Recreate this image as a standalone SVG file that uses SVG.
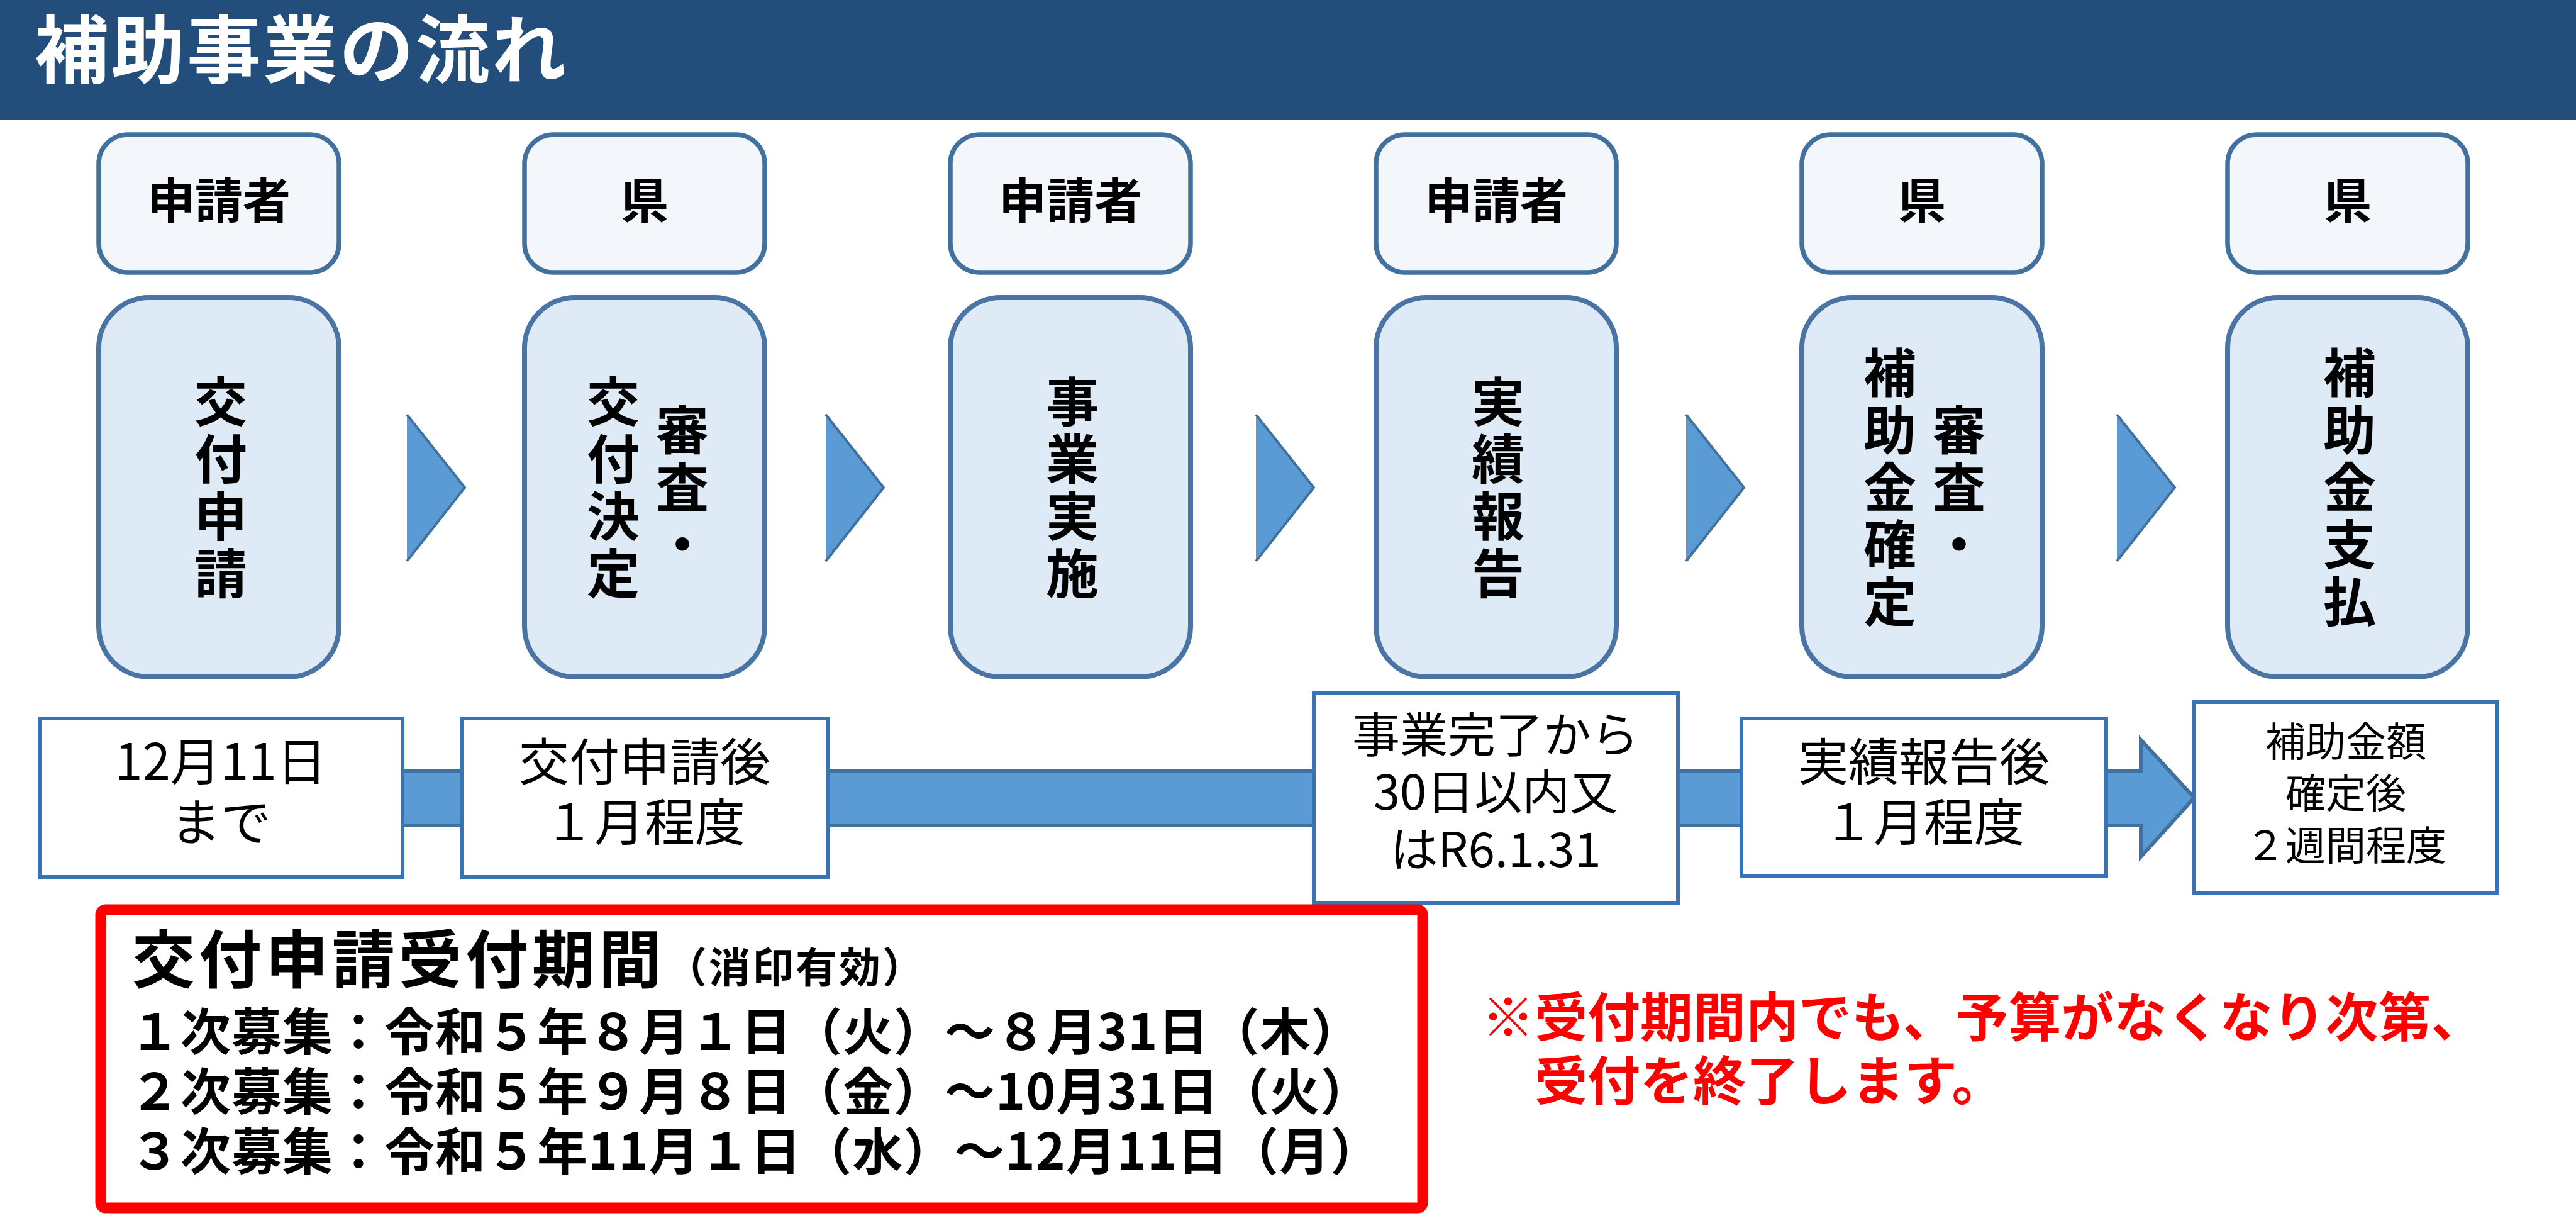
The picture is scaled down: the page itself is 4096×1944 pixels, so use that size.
<svg xmlns="http://www.w3.org/2000/svg" width="4096" height="1944" viewBox="0 0 4096 1944">
<style>
.hd{font-family:"Noto Sans CJK JP","Noto Sans CJK SC",sans-serif;font-weight:700;fill:#fff}
.b{font-family:"Noto Sans CJK JP","Noto Sans CJK SC",sans-serif;font-weight:700;fill:#000}
.r{font-family:"Noto Sans CJK JP","Noto Sans CJK SC",sans-serif;font-weight:400;fill:#000}
.red{font-family:"Noto Sans CJK JP","Noto Sans CJK SC",sans-serif;font-weight:700;fill:#FF0000}
.who{fill:#F3F7FB;stroke:#41719C;stroke-width:7.5}
.step{fill:#DEEBF7;stroke:#4A74A4;stroke-width:8}
.tri{fill:#5B9BD5}
.triE{fill:none;stroke:#41719C;stroke-width:4;stroke-linejoin:miter}
.tb{fill:#fff;stroke:#3773B5;stroke-width:6}
.who-t{font-size:76px}
.v{font-size:84px;text-anchor:middle;writing-mode:vertical-rl;text-orientation:upright;letter-spacing:7px}
.t80{font-size:80px;text-anchor:middle}
.t76{font-size:76px;text-anchor:middle}
.t64{font-size:64px;text-anchor:middle}
</style>

<rect x="0" y="0" width="4096" height="191" fill="#234E7B"/>
<text class="hd" x="55" y="123" font-size="118" textLength="845">補助事業の流れ</text>

<g id="connectors">
  <polygon points="500,1225 3404,1225 3404,1176 3489,1268 3404,1362 3404,1312 500,1312" fill="#5B9BD5" stroke="#41719C" stroke-width="6"/>
  <polygon class="tri" points="647,659 739,775 647,892"/>
  <polyline class="triE" points="647,659 739,775 647,892"/>
  <polygon class="tri" points="1313,659 1405,775 1313,892"/>
  <polyline class="triE" points="1313,659 1405,775 1313,892"/>
  <polygon class="tri" points="1997,659 2089,775 1997,892"/>
  <polyline class="triE" points="1997,659 2089,775 1997,892"/>
  <polygon class="tri" points="2681,659 2773,775 2681,892"/>
  <polyline class="triE" points="2681,659 2773,775 2681,892"/>
  <polygon class="tri" points="3366,659 3458,775 3366,892"/>
  <polyline class="triE" points="3366,659 3458,775 3366,892"/>
</g>

<g id="actor1"><rect class="who" x="157" y="214" width="382" height="219" rx="46"/><text class="b who-t" x="348" y="347" text-anchor="middle">申請者</text></g>
<g id="actor2"><rect class="who" x="834" y="214" width="382" height="219" rx="46"/><text class="b who-t" x="1025" y="347" text-anchor="middle">県</text></g>
<g id="actor3"><rect class="who" x="1511" y="214" width="382" height="219" rx="46"/><text class="b who-t" x="1702" y="347" text-anchor="middle">申請者</text></g>
<g id="actor4"><rect class="who" x="2188" y="214" width="382" height="219" rx="46"/><text class="b who-t" x="2379" y="347" text-anchor="middle">申請者</text></g>
<g id="actor5"><rect class="who" x="2865" y="214" width="382" height="219" rx="46"/><text class="b who-t" x="3056" y="347" text-anchor="middle">県</text></g>
<g id="actor6"><rect class="who" x="3542" y="214" width="382" height="219" rx="46"/><text class="b who-t" x="3733" y="347" text-anchor="middle">県</text></g>

<g id="step1"><rect class="step" x="157" y="473" width="382" height="603" rx="80"/>
  <text class="b v" x="351" y="778">交付申請</text>
</g>
<g id="step2"><rect class="step" x="834" y="473" width="382" height="603" rx="80"/>
  <text class="b v" x="1085" y="778">審査・</text>
  <text class="b v" x="975" y="778">交付決定</text>
</g>
<g id="step3"><rect class="step" x="1511" y="473" width="382" height="603" rx="80"/>
  <text class="b v" x="1705" y="778">事業実施</text>
</g>
<g id="step4"><rect class="step" x="2188" y="473" width="382" height="603" rx="80"/>
  <text class="b v" x="2382" y="778">実績報告</text>
</g>
<g id="step5"><rect class="step" x="2865" y="473" width="382" height="603" rx="80"/>
  <text class="b v" x="3115" y="778">審査・</text>
  <text class="b v" x="3005" y="778">補助金確定</text>
</g>
<g id="step6"><rect class="step" x="3542" y="473" width="382" height="603" rx="80"/>
  <text class="b v" x="3736" y="778">補助金支払</text>
</g>

<g id="time1"><rect class="tb" x="63" y="1142" width="577" height="252"/>
  <text class="r t80" x="351" y="1240">12月11日</text><text class="r t80" x="351" y="1336">まで</text></g>
<g id="time2"><rect class="tb" x="734" y="1142" width="583" height="252"/>
  <text class="r t80" x="1025" y="1240">交付申請後</text><text class="r t80" x="1025" y="1336">１月程度</text></g>
<g id="time3"><rect class="tb" x="2089" y="1102" width="579" height="333"/>
  <text class="r t76" x="2378" y="1196">事業完了から</text><text class="r t76" x="2378" y="1287">30日以内又</text><text class="r t76" x="2378" y="1378">はR6.1.31</text></g>
<g id="time4"><rect class="tb" x="2769" y="1142" width="580" height="251"/>
  <text class="r t80" x="3059" y="1240">実績報告後</text><text class="r t80" x="3059" y="1336">１月程度</text></g>
<g id="time5"><rect class="tb" x="3489" y="1116" width="482" height="304"/>
  <text class="r t64" x="3730" y="1202">補助金額</text><text class="r t64" x="3730" y="1284">確定後</text><text class="r t64" x="3730" y="1367">２週間程度</text></g>

<g id="period">
  <rect x="160" y="1446" width="2102" height="474" rx="8" fill="#fff" stroke="#FF0000" stroke-width="17"/>
  <text class="b" x="210" y="1562" font-size="100" letter-spacing="6">交付申請受付期間<tspan font-size="66" letter-spacing="3">（消印有効）</tspan></text>
  <text class="b" x="206" y="1669" font-size="80" letter-spacing="1">１次募集：令和５年８月１日（火）～８月31日（木）</text>
  <text class="b" x="206" y="1764" font-size="80" letter-spacing="1">２次募集：令和５年９月８日（金）～10月31日（火）</text>
  <text class="b" x="206" y="1859" font-size="80" letter-spacing="1">３次募集：令和５年11月１日（水）～12月11日（月）</text>
</g>

<g id="note">
  <text class="red" x="2356" y="1648" font-size="84">※受付期間内でも、予算がなくなり次第、</text>
  <text class="red" x="2440" y="1749" font-size="84">受付を終了します。</text>
</g>
</svg>
